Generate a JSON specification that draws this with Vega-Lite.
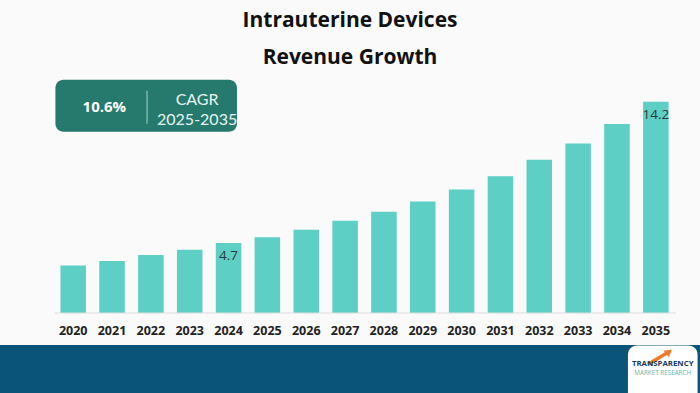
{
  "$schema": "https://vega.github.io/schema/vega-lite/v6.json",
  "padding": {"top": 10, "left": 0, "right": 0, "bottom": 0},
  "spacing": 0,
  "background": "#fafafa",
  "config": {"view": {"stroke": null}, "font": "Open Sans"},
  "title": {
    "text": "Intrauterine Devices",
    "subtitle": "Revenue Growth",
    "font": "Open Sans",
    "fontSize": 21,
    "fontWeight": "bold",
    "color": "#111111",
    "subtitleFont": "Open Sans",
    "subtitleFontSize": 21,
    "subtitleFontWeight": "bold",
    "subtitleColor": "#111111",
    "subtitlePadding": 16,
    "anchor": "middle",
    "frame": "group",
    "offset": 7
  },
  "datasets": {
    "revenue": [
      {"year": "2020", "value": 3.2},
      {"year": "2021", "value": 3.5},
      {"year": "2022", "value": 3.9},
      {"year": "2023", "value": 4.25},
      {"year": "2024", "value": 4.7},
      {"year": "2025", "value": 5.1},
      {"year": "2026", "value": 5.6},
      {"year": "2027", "value": 6.2},
      {"year": "2028", "value": 6.8},
      {"year": "2029", "value": 7.5},
      {"year": "2030", "value": 8.3},
      {"year": "2031", "value": 9.2},
      {"year": "2032", "value": 10.3},
      {"year": "2033", "value": 11.4},
      {"year": "2034", "value": 12.7},
      {"year": "2035", "value": 14.2}
    ]
  },
  "vconcat": [
    {
      "width": 700,
      "height": 238,
      "encoding": {
        "x": {
          "field": "year",
          "type": "nominal",
          "scale": {
            "type": "band",
            "domain": ["2020","2021","2022","2023","2024","2025","2026","2027","2028","2029","2030","2031","2032","2033","2034","2035"],
            "range": [41, 688],
            "paddingInner": 0.343,
            "paddingOuter": 0.5,
            "align": 0.5
          },
          "axis": {
            "title": null,
            "domain": false,
            "ticks": false,
            "labelAngle": 0,
            "labelPadding": 11,
            "labelFont": "Open Sans",
            "labelFontWeight": "bold",
            "labelFontSize": 12.5,
            "labelColor": "#222222",
            "minExtent": 32,
            "maxExtent": 32
          }
        }
      },
      "layer": [
        {
          "data": {"values": [{}]},
          "mark": {"type": "rect", "color": "#257a6d", "cornerRadius": 8, "xOffset": -5},
          "encoding": {
            "x": {"datum": "2020", "type": "nominal", "bandPosition": 0},
            "x2": {"datum": "2024", "bandPosition": 0.83},
            "y": {"datum": 15.68, "type": "quantitative", "scale": {"domain": [0, 16]}, "axis": null},
            "y2": {"datum": 12.18}
          }
        },
        {
          "data": {"values": [{}]},
          "mark": {"type": "rule", "color": "#a9cfc8", "strokeWidth": 1},
          "encoding": {
            "x": {"datum": "2022", "type": "nominal", "bandPosition": 0.35},
            "y": {"datum": 14.94, "type": "quantitative"},
            "y2": {"datum": 12.72}
          }
        },
        {
          "data": {"values": [{}]},
          "mark": {"type": "text", "text": "10.6%", "color": "#ffffff", "font": "Open Sans", "fontWeight": "bold", "fontSize": 15, "baseline": "middle", "align": "center"},
          "encoding": {
            "x": {"datum": "2021", "type": "nominal", "bandPosition": 0.2},
            "y": {"datum": 13.86, "type": "quantitative"}
          }
        },
        {
          "data": {"values": [{}]},
          "mark": {"type": "text", "text": "CAGR", "color": "#e8f4f1", "font": "Lato", "fontSize": 16, "baseline": "middle", "align": "center"},
          "encoding": {
            "x": {"datum": "2023", "type": "nominal", "bandPosition": 0.79},
            "y": {"datum": 14.3, "type": "quantitative"}
          }
        },
        {
          "data": {"values": [{}]},
          "mark": {"type": "text", "text": "2025-2035", "color": "#e8f4f1", "font": "Lato", "fontSize": 16, "baseline": "middle", "align": "center"},
          "encoding": {
            "x": {"datum": "2023", "type": "nominal", "bandPosition": 0.79},
            "y": {"datum": 12.98, "type": "quantitative"}
          }
        },
        {
          "data": {"name": "revenue"},
          "mark": {"type": "bar", "color": "#5dcfc4"},
          "encoding": {
            "y": {"field": "value", "type": "quantitative"}
          }
        },
        {
          "data": {"name": "revenue"},
          "transform": [{"filter": "datum.year == '2024' || datum.year == '2035'"}],
          "mark": {"type": "text", "color": "#2b3b3b", "font": "Open Sans", "fontSize": 13.5, "baseline": "top", "align": "center", "dy": 6},
          "encoding": {
            "y": {"field": "value", "type": "quantitative"},
            "text": {"field": "value", "type": "quantitative", "format": ".1f"}
          }
        },
        {
          "data": {"values": [{}]},
          "mark": {"type": "rule", "color": "#dddddd", "strokeWidth": 1, "xOffset": -6, "x2Offset": 7},
          "encoding": {
            "x": {"datum": "2020", "type": "nominal", "bandPosition": 0},
            "x2": {"datum": "2035", "bandPosition": 1},
            "y": {"datum": 0, "type": "quantitative"}
          }
        }
      ]
    },
    {
      "width": 700,
      "height": 48,
      "view": {"fill": "#0b5479", "stroke": null},
      "encoding": {
        "x": {
          "datum": "2035",
          "type": "nominal",
          "bandPosition": 0.77,
          "scale": {
            "type": "band",
            "domain": ["2020","2021","2022","2023","2024","2025","2026","2027","2028","2029","2030","2031","2032","2033","2034","2035"],
            "range": [41, 688],
            "paddingInner": 0.343,
            "paddingOuter": 0.5,
            "align": 0.5
          },
          "axis": null
        }
      },
      "layer": [
        {
          "data": {"values": [{}]},
          "mark": {"type": "rect", "color": "#ffffff", "cornerRadius": 9, "x2Offset": 29},
          "encoding": {
            "x": {"datum": "2034", "type": "nominal", "bandPosition": 0.93},
            "x2": {"datum": "2035", "bandPosition": 1},
            "y": {"datum": -0.2, "type": "quantitative", "scale": {"domain": [0, 1]}, "axis": null},
            "y2": {"datum": 0.99}
          }
        },
        {
          "data": {"values": [{}]},
          "mark": {"type": "rule", "color": "#f07a2a", "strokeWidth": 3.5},
          "encoding": {
            "x": {"datum": "2035", "type": "nominal", "bandPosition": 0.2},
            "x2": {"datum": "2035", "bandPosition": 0.95},
            "y": {"datum": 0.6, "type": "quantitative"},
            "y2": {"datum": 0.84}
          }
        },
        {
          "data": {"values": [{}]},
          "mark": {"type": "point", "shape": "triangle-up", "angle": 50, "filled": true, "opacity": 1, "color": "#f07a2a", "size": 70},
          "encoding": {
            "x": {"datum": "2035", "type": "nominal", "bandPosition": 1.02},
            "y": {"datum": 0.86, "type": "quantitative"}
          }
        },
        {
          "data": {"values": [{}]},
          "mark": {"type": "text", "text": "TRANSPARENCY", "color": "#173a5e", "font": "Open Sans", "fontWeight": "bold", "fontSize": 7.8, "baseline": "middle", "align": "center"},
          "encoding": {
            "y": {"datum": 0.6, "type": "quantitative"}
          }
        },
        {
          "data": {"values": [{}]},
          "mark": {"type": "text", "text": "MARKET RESEARCH", "color": "#5fb7b0", "font": "Open Sans", "fontSize": 6.3, "baseline": "middle", "align": "center"},
          "encoding": {
            "y": {"datum": 0.42, "type": "quantitative"}
          }
        }
      ]
    }
  ]
}
